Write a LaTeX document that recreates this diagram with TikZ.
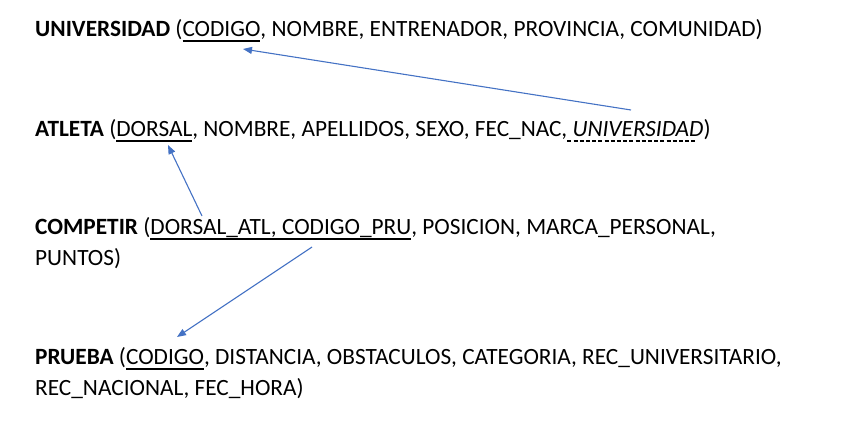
\documentclass[tikz,border=0pt]{standalone}
\usepackage{fontspec}
\setmainfont{Carlito}
\usetikzlibrary{arrows.meta}
\newcommand\myUl[1]{\setbox0\hbox{#1}\rlap{\vrule height -4pt depth 5.5pt width \wd0}\box0}
\newcommand\myDashUl[1]{\setbox0\hbox{#1}\rlap{\hbox to \wd0{\leaders\hbox{\vrule height -4pt depth 5.5pt width 4pt\hskip 2.2pt}\hfill}}\box0}
\begin{document}
\begin{tikzpicture}[x=1pt,y=-1pt,
  rel/.style={anchor=base west, inner sep=0pt, font=\fontsize{23.3}{28}\selectfont},
  fk/.style={draw=arrowblue, line width=1.1pt, -{Triangle[length=9pt,width=7pt]}}]
\definecolor{arrowblue}{HTML}{4472C4}
\useasboundingbox (0,0) rectangle (848,442);
\node[rel] (u) at (35,36) {\textbf{UNIVERSIDAD} (\myUl{CODIGO}, NOMBRE, ENTRENADOR, PROVINCIA, COMUNIDAD)};
\node[rel] (a) at (35,136) {\textbf{ATLETA} (\myUl{DORSAL}, NOMBRE, APELLIDOS, SEXO, FEC\_NAC,\myDashUl{ \textit{UNIVERSIDAD}})};
\node[rel] (c) at (35,234) {\textbf{COMPETIR} (\myUl{DORSAL\_ATL, CODIGO\_PRU}, POSICION, MARCA\_PERSONAL,};
\node[rel] (c2) at (35,265) {PUNTOS)};
\node[rel] (p) at (35,364) {\textbf{PRUEBA} (\myUl{CODIGO}, DISTANCIA, OBSTACULOS, CATEGORIA, REC\_UNIVERSITARIO,};
\node[rel] (p2) at (35,395) {REC\_NACIONAL, FEC\_HORA)};
\coordinate (s1) at (631,110);
\coordinate (t1) at (243,49);
\coordinate (s2) at (202,216);
\coordinate (t2) at (168,145);
\coordinate (s3) at (312,247);
\coordinate (t3) at (177,337);
\draw[fk] (s1) -- (t1);
\draw[fk] (s2) -- (t2);
\draw[fk] (s3) -- (t3);
\end{tikzpicture}
\end{document}
